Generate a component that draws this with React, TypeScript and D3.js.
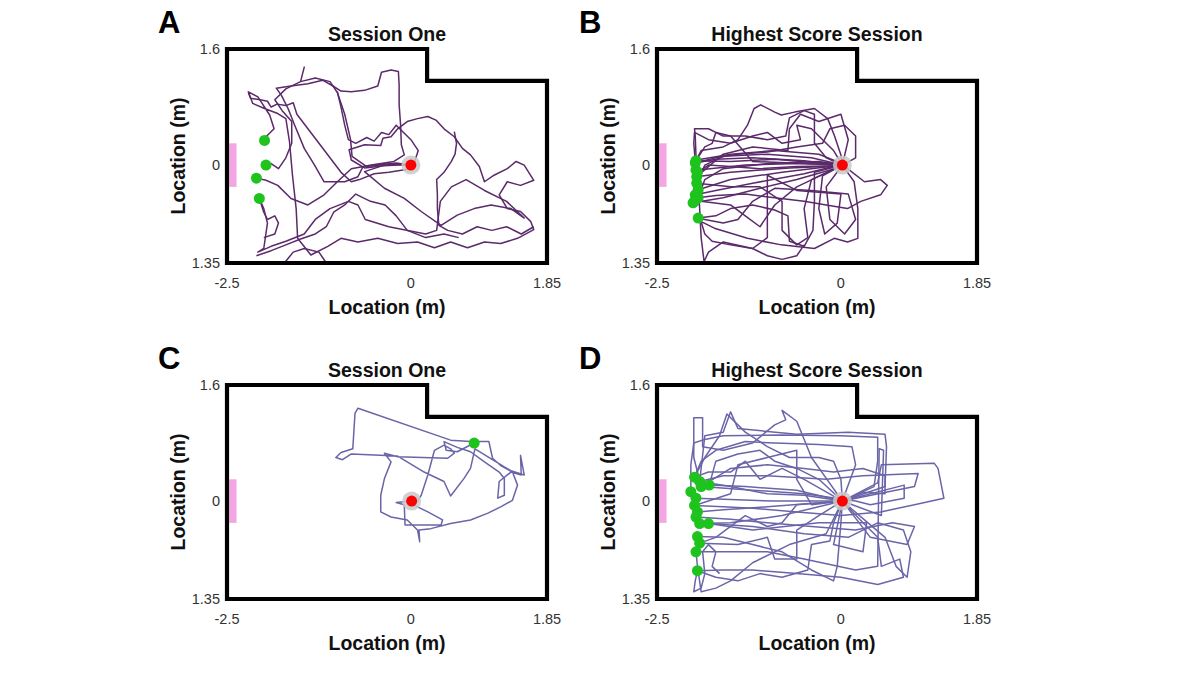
import React from 'react';
import * as d3 from 'd3';

type Pt = [number, number];

// ---- axes / arena ----
const X_DOMAIN: [number, number] = [-2.5, 1.85];
const Y_DOMAIN: [number, number] = [-1.35, 1.6];
const arenaX = [-2.5, 0.22, 0.22, 1.85, 1.85, -2.5];
const arenaY = [1.6, 1.6, 1.16, 1.16, -1.35, -1.35];
const zoneX = [-2.47, -2.37];
const zoneY = [-0.3, 0.3];
const xTickValues = [-2.5, 0, 1.85];
const xTickLabels = ['-2.5', '0', '1.85'];
const yTickValues = [1.6, 0, -1.35];
const yTickLabels = ['1.6', '0', '1.35'];
const panelLetters = ['A', 'B', 'C', 'D'];
const panelTitles = ['Session One', 'Highest Score Session', 'Session One', 'Highest Score Session'];
const axisTitle = 'Location (m)';

// ---- Panel A ----
const startA: Pt = [0, 0];
const goalsA: Pt[] = [[-1.99, 0.34], [-1.97, 0.0], [-2.1, -0.18], [-2.06, -0.46]];
const trialsA: Pt[][] = [
  [[0, 0.01], [-0.36, -0.01], [-0.63, -0.04], [-0.81, 0.07], [-0.84, 0.21], [-0.63, 0.28], [-0.41, 0.27], [-0.38, 0.37], [-0.27, 0.39], [-0.18, 0.5], [-0.05, 0.6], [0.09, 0.64], [0.23, 0.67], [0.34, 0.62], [0.45, 0.5], [0.59, 0.39], [0.7, 0.23], [0.81, 0.14], [0.93, -0.02], [1.0, -0.23], [1.13, -0.14], [1.31, -0.05], [1.43, 0.05], [1.54, 0.0], [1.67, -0.21], [1.49, -0.28], [1.31, -0.23], [1.2, -0.41], [1.31, -0.6], [1.49, -0.64], [1.63, -0.78], [1.67, -0.89], [1.45, -1.01], [1.22, -1.08], [1.0, -1.06], [0.77, -1.14], [0.54, -1.06], [0.32, -1.14], [0.09, -1.06], [-0.18, -1.08], [-0.45, -1.01], [-0.72, -1.06], [-0.95, -1.01], [-1.13, -1.12], [-1.36, -1.24], [-1.54, -1.01], [-1.56, -0.6], [-1.61, -0.14], [-1.65, 0.32], [-1.7, 0.64], [-1.81, 0.71], [-1.99, 0.78], [-2.15, 0.85], [-2.21, 1.01], [-2.08, 0.94], [-1.92, 0.69], [-1.86, 0.5], [-1.97, 0.39], [-1.99, 0.34]],
  [[0, 0], [-0.36, 0.01], [-0.65, -0.02], [-0.72, -0.16], [-0.9, -0.23], [-1.18, -0.23], [-1.31, 0.0], [-1.45, 0.23], [-1.58, 0.55], [-1.67, 0.78], [-1.76, 0.96], [-1.83, 1.06], [-1.63, 1.09], [-1.4, 1.12], [-1.2, 1.17], [-1.06, 1.09], [-0.95, 1.02], [-0.81, 1.01], [-0.63, 1.03], [-0.45, 1.09], [-0.4, 1.28], [-0.27, 1.31], [-0.17, 1.29], [-0.16, 1.1], [-0.16, 0.83], [-0.14, 0.55], [-0.13, 0.28], [-0.09, 0.14], [-0.23, 0.05], [-0.54, 0.0], [-0.81, -0.05], [-1.0, -0.23], [-1.18, -0.41], [-1.4, -0.55], [-1.63, -0.46], [-1.81, -0.28], [-1.97, -0.21], [-2.1, -0.18]],
  [[0, 0], [-0.3, 0.02], [-0.63, -0.09], [-0.36, -0.32], [-0.09, -0.46], [0.14, -0.64], [0.41, -0.83], [0.63, -0.69], [0.86, -0.6], [1.09, -0.55], [1.36, -0.6], [1.54, -0.73], [1.3, -0.5], [1.0, -0.35], [0.75, -0.2], [0.55, -0.3], [0.4, -0.5], [0.35, -0.9], [0.2, -0.95], [-0.3, -0.85], [-0.62, -0.75], [-0.72, -0.55], [-0.85, -0.5], [-1.1, -0.6], [-1.3, -0.75], [-1.45, -0.95], [-1.7, -1.05], [-1.9, -1.12], [-2.08, -1.2], [-2.0, -1.15], [-1.95, -0.8], [-2.0, -0.6], [-2.06, -0.46]],
  [[0, 0], [-0.2, 0.03], [-0.6, -0.02], [-0.8, 0.12], [-0.82, 0.35], [-0.9, 0.7], [-1.0, 1.0], [-1.1, 1.15], [-1.3, 1.2], [-1.5, 1.15], [-1.45, 1.35], [-1.5, 1.15], [-1.7, 1.05], [-1.85, 0.9], [-1.75, 0.75], [-1.62, 0.6], [-1.62, 0.3], [-1.7, 0.1], [-1.8, -0.05], [-1.9, 0.02], [-1.97, 0.0]],
  [[-2.21, 1.0], [-2.18, 0.92], [-2.05, 0.9], [-1.95, 0.88], [-1.9, 0.8], [-1.82, 0.84], [-1.7, 0.82], [-1.6, 0.86], [-1.55, 0.7], [-1.4, 0.5], [-1.25, 0.3], [-1.1, 0.1], [-0.95, -0.1], [-0.81, -0.23], [-0.7, -0.2], [-0.5, -0.12], [-0.3, -0.1], [0.0, -0.05]],
  [[-1.0, 1.01], [-0.95, 0.8], [-0.9, 0.55], [-0.85, 0.35], [-0.75, 0.3], [-0.6, 0.38], [-0.5, 0.33], [-0.4, 0.45], [-0.3, 0.42], [-0.2, 0.55], [-0.1, 0.45], [0.0, 0.35], [0.1, 0.2], [0.05, 0.05]],
  [[0.59, 0.46], [0.62, 0.3], [0.6, 0.15], [0.55, 0.05], [0.45, -0.1], [0.35, -0.2], [0.36, -0.41], [0.36, -0.6], [0.38, -0.83], [0.5, -0.9], [0.7, -0.95], [0.9, -0.85], [1.1, -0.9], [1.3, -0.85], [1.5, -0.95], [1.67, -0.85]],
  [[-2.1, -1.25], [-1.9, -1.18], [-1.7, -1.1], [-1.5, -1.02], [-1.3, -0.95], [-1.15, -0.85], [-1.05, -0.65], [-0.9, -0.55], [-0.75, -0.4], [-0.55, -0.5], [-0.35, -0.55], [-0.2, -0.7], [-0.05, -0.9], [0.2, -1.0], [0.45, -0.95], [0.65, -1.0]],
  [[-1.72, -1.35], [-1.6, -1.2], [-1.45, -1.15], [-1.25, -1.2], [-1.15, -1.35]],
  [[-2.06, -0.46], [-2.0, -0.65], [-1.95, -0.75], [-1.85, -0.7], [-1.8, -0.8], [-1.85, -0.95], [-2.0, -1.0]],
];

// ---- Panel B ----
const startB: Pt = [0.02, 0];
const goalsB: Pt[] = [[-1.98, 0.03], [-1.97, -0.07], [-1.96, -0.16], [-1.96, -0.25], [-1.94, -0.34], [-1.98, -0.41], [-1.94, -0.45], [-2.01, -0.52], [-1.94, -0.73], [-1.99, -0.5], [-1.97, 0.06], [-1.95, -0.1]];
const trialsB: Pt[][] = [
  [[0.02, 0], [-0.5, 0.06], [-1.2, 0.1], [-1.7, 0.08], [-1.98, 0.03]],
  [[0.02, 0], [-0.6, 0.02], [-1.3, 0.0], [-1.97, -0.07]],
  [[0.02, -0.01], [-0.7, -0.04], [-1.5, -0.1], [-1.96, -0.16]],
  [[0.02, 0], [-0.4, 0.1], [-1.0, 0.15], [-1.6, 0.12], [-1.85, 0.0], [-1.96, -0.25]],
  [[0.02, 0], [-0.8, -0.1], [-1.5, -0.2], [-1.94, -0.34]],
  [[0.02, 0.01], [-0.5, -0.12], [-1.2, -0.25], [-1.7, -0.35], [-1.98, -0.41]],
  [[0.02, 0], [-0.3, 0.05], [-1.0, 0.02], [-1.6, -0.05], [-1.85, -0.2], [-1.94, -0.45]],
  [[0.02, 0], [-0.9, 0.08], [-1.5, 0.05], [-1.97, 0.06]],
  [[0.02, -0.02], [-0.6, -0.2], [-1.1, -0.32], [-1.6, -0.45], [-2.01, -0.52]],
  [[0.02, 0.02], [-0.3, 0.15], [-0.9, 0.2], [-1.5, 0.15], [-1.9, 0.08], [-1.98, 0.03]],
  [[0.02, 0], [0.0, 0.14], [-0.09, 0.41], [-0.18, 0.64], [-0.36, 0.78], [-0.63, 0.73], [-0.81, 0.69], [-0.9, 0.73], [-1.09, 0.83], [-1.18, 0.78], [-1.27, 0.55], [-1.4, 0.35], [-1.6, 0.25], [-1.9, 0.2], [-1.97, 0.06]],
  [[0.02, 0], [0.09, -0.05], [0.32, -0.23], [0.54, -0.2], [0.63, -0.28], [0.54, -0.41], [0.27, -0.5], [0.09, -0.6], [-0.2, -0.55], [-0.5, -0.5], [-0.9, -0.45], [-1.3, -0.4], [-1.7, -0.42], [-1.94, -0.45]],
  [[0.02, 0], [0.18, -0.23], [0.23, -0.6], [0.23, -1.01], [0.09, -1.06], [-0.09, -1.01], [-0.36, -1.15], [-0.81, -1.1], [-1.27, -1.01], [-1.72, -0.87], [-1.9, -0.78], [-1.94, -0.73]],
  [[0.02, 0], [-0.1, 0.2], [-0.4, 0.5], [-0.6, 0.55], [-0.55, 0.35], [-0.8, 0.3], [-1.0, 0.45], [-1.2, 0.4], [-1.5, 0.3], [-1.8, 0.35], [-1.99, 0.45], [-2.0, 0.3], [-1.97, -0.07]],
  [[0.02, 0], [-0.4, -0.2], [-0.5, -0.6], [-0.45, -1.0], [-0.6, -1.1], [-0.8, -0.9], [-0.8, -0.5], [-1.1, -0.3], [-1.5, -0.3], [-1.96, -0.25]],
  [[0.02, 0], [-0.6, -0.3], [-0.9, -0.55], [-1.1, -0.85], [-1.3, -0.7], [-1.5, -0.55], [-1.9, -0.5], [-1.99, -0.5]],
  [[0.02, 0], [-0.25, -0.15], [-0.3, -0.6], [-0.22, -0.95], [-0.05, -0.8], [0.0, -0.4], [-0.6, -0.35], [-1.0, -0.14], [-1.0, -1.0], [-1.2, -1.15], [-1.6, -1.06], [-1.8, -1.2], [-1.86, -1.33], [-1.9, -1.0], [-1.92, -0.6], [-1.95, -0.1]],
  [[0.02, 0], [0.1, 0.35], [0.0, 0.7], [-0.3, 0.6], [-0.55, 0.7], [-0.7, 0.5], [-0.72, 0.2], [-1.2, 0.25], [-1.6, 0.15], [-1.96, -0.16]],
  [[0.02, -0.01], [-0.6, -0.02], [-1.1, -0.05], [-1.5, -0.02], [-1.8, 0.0], [-1.95, -0.1]],
  [[0.02, 0], [-0.2, 0.1], [-0.36, 0.3], [-0.36, 0.7], [-0.5, 0.75], [-0.7, 0.65], [-0.75, 0.4], [-1.0, 0.35], [-1.3, 0.4], [-1.6, 0.4], [-1.8, 0.5], [-1.99, 0.5], [-1.98, 0.4], [-1.96, -0.16]],
  [[0.02, 0], [-0.36, -0.1], [-0.36, -0.5], [-0.38, -0.9], [-0.5, -1.12], [-0.7, -1.05], [-0.72, -0.7], [-0.9, -0.62], [-1.2, -0.55], [-1.5, -0.6], [-1.7, -0.7], [-1.94, -0.73]],
  [[0.02, 0], [0.2, 0.1], [0.2, 0.4], [0.05, 0.55], [-0.15, 0.5], [-0.25, 0.3], [-0.6, 0.25], [-1.0, 0.18], [-1.4, 0.15], [-1.7, 0.1], [-1.98, 0.03]],
  [[0.02, 0], [-0.2, -0.3], [-0.15, -0.75], [0.05, -0.95], [0.2, -0.75], [0.1, -0.4], [-0.4, -0.35], [-0.9, -0.32], [-1.2, -0.5], [-1.4, -0.75], [-1.6, -0.8], [-1.85, -0.75], [-1.94, -0.73]],
  [[0.02, 0], [-1.2, 0.05], [-1.5, 0.4], [-1.7, 0.45], [-1.75, 0.3], [-1.85, 0.25], [-1.97, 0.06]],
  [[-1.9, -0.78], [-1.85, -0.95], [-1.75, -1.05], [-1.5, -1.1], [-1.2, -1.15], [-1.0, -1.25], [-0.8, -1.3], [-0.6, -1.25], [-0.5, -1.1]],
];

// ---- Panel C ----
const startC: Pt = [0.01, 0];
const goalsC: Pt[] = [[0.86, 0.8]];
const trialsC: Pt[][] = [
  [[0.01, 0], [-0.2, -0.02], [-0.09, -0.05], [-0.08, -0.33], [0.09, -0.33], [0.41, -0.33], [0.43, -0.26], [0.23, -0.15], [0.05, -0.06], [0.14, 0.08], [0.23, 0.36], [0.32, 0.7], [0.45, 0.77], [0.54, 0.72], [0.59, 0.66], [0.5, 0.59], [-0.18, 0.61], [-0.36, 0.66], [-0.27, 0.54], [-0.36, 0.31], [-0.41, 0.08], [-0.41, -0.15], [-0.27, -0.22], [-0.05, -0.26], [0.09, -0.4], [0.12, -0.56], [0.11, -0.4], [0.27, -0.38], [0.54, -0.31], [0.81, -0.26], [1.04, -0.17], [1.22, -0.08], [1.38, 0.01], [1.45, 0.22], [1.38, 0.4], [1.22, 0.49], [1.11, 0.59], [1.09, 0.68], [1.06, 0.82], [0.81, 0.82], [0.54, 0.84], [-0.72, 1.28], [-0.76, 1.21], [-0.79, 0.72], [-0.95, 0.67], [-1.02, 0.6], [-0.93, 0.57], [-0.81, 0.65], [-0.18, 0.62], [0.18, 0.4], [0.45, 0.27], [0.54, 0.07], [0.72, 0.31], [0.81, 0.45], [0.87, 0.72], [1.27, 0.47], [1.36, 0.42], [1.54, 0.36], [1.49, 0.63], [1.5, 0.36], [1.36, 0.4], [1.2, 0.27], [1.18, 0.04], [1.27, 0.08], [1.27, 0.31], [1.2, 0.4], [1.0, 0.54], [0.81, 0.68], [0.63, 0.74], [0.45, 0.82], [0.48, 0.7], [0.63, 0.68], [0.86, 0.8]],
];

// ---- Panel D ----
const startD: Pt = [0.02, 0];
const goalsD: Pt[] = [[-1.99, 0.33], [-1.92, 0.27], [-2.04, 0.13], [-1.9, 0.2], [-1.79, 0.22], [-1.97, 0.04], [-1.99, -0.06], [-1.95, -0.15], [-1.97, -0.22], [-1.92, -0.31], [-1.8, -0.31], [-1.95, -0.49], [-1.92, -0.58], [-1.97, -0.7], [-1.95, -0.96]];
const trialsD: Pt[][] = [
  [[0.02, 0], [-0.5, 0.08], [-1.0, 0.1], [-1.5, 0.2], [-1.92, 0.27]],
  [[0.02, 0], [-0.9, 0.0], [-1.5, 0.02], [-1.97, 0.04]],
  [[0.02, 0], [-1.0, -0.08], [-1.6, -0.12], [-1.95, -0.15]],
  [[0.02, 0], [-0.6, 0.15], [-1.3, 0.2], [-1.79, 0.22]],
  [[0.02, 0], [-0.8, -0.2], [-1.5, -0.3], [-1.92, -0.31]],
  [[0.02, 0], [0.0, 0.3], [-0.1, 0.55], [-0.3, 0.6], [-0.7, 0.6], [-1.0, 0.75], [-1.3, 0.95], [-1.55, 1.2], [-1.65, 0.9], [-1.85, 0.6], [-1.99, 0.33]],
  [[0.02, 0], [0.45, 0.2], [0.5, 0.55], [0.5, 0.88], [0.0, 0.9], [-0.8, 0.91], [-1.6, 0.9], [-1.85, 0.85], [-2.0, 0.8], [-2.04, 0.5], [-2.04, 0.13]],
  [[0.02, 0], [0.5, 0.25], [0.55, 0.5], [1.27, 0.52], [1.32, 0.45], [1.4, 0.04], [1.0, -0.05], [0.54, -0.15], [0.0, -0.2], [-0.6, -0.15], [-1.2, -0.1], [-1.6, -0.08], [-1.99, -0.06]],
  [[0.02, 0], [0.86, 0.22], [0.86, 0.04], [0.4, -0.05], [0.2, 0.0], [-0.5, 0.1], [-1.2, 0.15], [-1.9, 0.2]],
  [[0.02, 0], [0.3, -0.3], [0.5, -0.5], [0.55, -0.9], [0.8, -0.8], [0.85, -1.05], [0.5, -1.15], [0.0, -1.05], [-0.6, -1.0], [-1.2, -0.95], [-1.6, -0.95], [-1.95, -0.96]],
  [[0.02, 0], [0.0, -0.3], [-0.05, -0.9], [-0.1, -1.1], [-0.4, -0.95], [-0.8, -0.7], [-1.2, -0.6], [-1.6, -0.5], [-1.95, -0.49]],
  [[0.02, 0], [-0.3, -0.2], [-0.6, -0.4], [-0.6, -0.8], [-0.9, -0.8], [-1.0, -0.5], [-1.4, -0.6], [-1.92, -0.58]],
  [[0.02, 0], [-0.5, 0.3], [-0.8, 0.45], [-1.1, 0.3], [-1.3, 0.55], [-1.5, 0.4], [-1.8, 0.4], [-1.99, 0.33]],
  [[0.02, 0], [0.4, -0.5], [0.9, -0.6], [1.0, -0.35], [0.7, -0.3], [0.2, -0.4], [-0.4, -0.35], [-1.0, -0.3], [-1.5, -0.25], [-1.97, -0.22]],
  [[0.02, 0], [-0.2, -0.45], [-0.7, -0.6], [-1.2, -0.85], [-1.5, -1.1], [-1.7, -1.2], [-1.9, -1.25], [-1.95, -0.9], [-1.97, -0.7]],
  [[0.02, 0], [-0.4, 0.6], [-0.6, 1.1], [-0.8, 1.25], [-0.75, 1.12], [-0.9, 1.05], [-1.2, 0.8], [-1.6, 0.7], [-1.88, 0.75], [-1.88, 1.15], [-2.0, 1.15], [-2.0, 0.6], [-1.9, 0.2]],
  [[0.02, 0], [0.55, -0.2], [0.58, 0.7], [0.52, 0.72], [0.5, -0.9], [0.2, -0.95], [-0.5, -0.8], [-1.0, -0.7], [-1.5, -0.7], [-1.97, -0.7]],
  [[0.02, 0], [-0.1, -0.6], [0.3, -0.7], [0.35, -0.3], [-0.3, -0.3], [-1.2, -0.4], [-1.8, -0.31]],
  [[0.02, 0], [-0.4, -0.05], [-0.6, 0.3], [-0.6, 0.7], [-1.0, 0.6], [-1.4, 0.5], [-1.5, 0.1], [-1.99, -0.06]],
  [[0.02, 0], [1.0, 0.2], [1.05, 0.38], [0.3, 0.35], [-0.2, 0.3], [-1.0, 0.35], [-1.6, 0.35], [-1.92, 0.27]],
  [[0.02, 0], [0.2, 0.5], [0.15, 0.75], [-0.3, 0.78], [-0.9, 0.8], [-1.3, 0.82], [-1.7, 0.7], [-1.9, 0.55], [-1.99, 0.33]],
  [[0.02, 0], [0.6, 0.2], [0.62, 0.75], [0.6, 0.92], [0.1, 0.95], [-0.6, 0.92], [-1.4, 1.0], [-1.5, 1.23], [-1.6, 0.95], [-1.85, 0.9], [-1.92, 0.27]],
  [[0.02, 0], [-0.1, -0.3], [-0.15, -0.55], [-0.4, -0.6], [-0.45, -0.95], [-0.8, -1.05], [-1.1, -1.0], [-1.4, -1.1], [-1.7, -1.05], [-1.95, -0.96]],
  [[0.02, 0], [0.6, -0.5], [0.75, -0.9], [0.9, -1.05], [0.95, -0.7], [0.85, -0.4], [0.5, -0.3], [0.1, -0.5], [-0.5, -0.45], [-1.2, -0.35], [-1.8, -0.31]],
  [[0.02, 0], [-0.3, 0.3], [-0.6, 0.45], [-0.9, 0.55], [-1.1, 0.7], [-1.4, 0.65], [-1.7, 0.55], [-1.79, 0.22]],
  [[0.02, 0], [-0.6, -0.05], [-0.8, -0.3], [-1.0, -0.35], [-1.3, -0.2], [-1.5, -0.35], [-1.7, -0.5], [-1.92, -0.58]],
  [[0.02, 0], [0.3, 0.12], [0.6, 0.1], [0.6, 0.35], [0.3, 0.45], [-0.1, 0.4], [-0.5, 0.45], [-1.0, 0.5], [-1.5, 0.45], [-1.9, 0.2]],
  [[-1.95, -0.96], [-1.98, -1.1], [-2.0, -1.25], [-1.9, -1.2], [-1.85, -1.0], [-1.88, -0.7], [-1.8, -0.6], [-1.7, -0.7], [-1.75, -0.9], [-1.65, -1.0]],
];

const panelTrials = [trialsA, trialsB, trialsC, trialsD];
const panelGoals = [goalsA, goalsB, goalsC, goalsD];
const panelStarts = [startA, startB, startC, startD];
const panelLineColors = ['#5b2a6b', '#5b2a6b', '#6a65a8', '#6a65a8'];

const FONT = "'Liberation Sans', Arial, sans-serif";
const BOX_W = 320;
const BOX_H = 214;

function Panel({ index }: { index: number }) {
  const col = index % 2;
  const row = Math.floor(index / 2);
  const left = 227 + col * 430;
  const top = 49 + row * 336;
  const xs = d3.scaleLinear().domain(X_DOMAIN).range([left, left + BOX_W]);
  const ys = d3.scaleLinear().domain(Y_DOMAIN).range([top + BOX_H, top]);
  const line = d3.line<Pt>().x((d) => xs(d[0])).y((d) => ys(d[1]));
  const arena: Pt[] = arenaX.map((x, i) => [x, arenaY[i]] as Pt);
  const arenaPath = line(arena) + 'Z';
  const start = panelStarts[index];
  const letterX = col === 0 ? 158 : 579;
  return (
    <g>
      <text x={letterX} y={top - 16} fontFamily={FONT} fontWeight="bold" fontSize={31} fill="#000">
        {panelLetters[index]}
      </text>
      <text x={left + BOX_W / 2} y={top - 8} textAnchor="middle" fontFamily={FONT} fontWeight="bold" fontSize={19.5} fill="#111">
        {panelTitles[index]}
      </text>
      <rect
        x={xs(zoneX[0])}
        y={ys(zoneY[1])}
        width={xs(zoneX[1]) - xs(zoneX[0])}
        height={ys(zoneY[0]) - ys(zoneY[1])}
        fill="#f3a6e3"
      />
      {panelTrials[index].map((t, i) => (
        <path key={i} d={line(t) || ''} fill="none" stroke={panelLineColors[index]} strokeWidth={1.5} strokeLinejoin="round" />
      ))}
      <circle cx={xs(start[0])} cy={ys(start[1])} r={9.5} fill="#c9c9c9" opacity={0.85} />
      {panelGoals[index].map((g, i) => (
        <circle key={i} cx={xs(g[0])} cy={ys(g[1])} r={5.5} fill="#1ec31e" />
      ))}
      <circle cx={xs(start[0])} cy={ys(start[1])} r={5.5} fill="#ff0000" />
      <path d={arenaPath} fill="none" stroke="#000" strokeWidth={4.2} strokeLinejoin="miter" />
      {yTickValues.map((v, i) => (
        <text key={i} x={left - 7} y={ys(v) + 5} textAnchor="end" fontFamily={FONT} fontSize={14.5} fill="#333">
          {yTickLabels[i]}
        </text>
      ))}
      {xTickValues.map((v, i) => (
        <text key={i} x={xs(v)} y={top + BOX_H + 25} textAnchor="middle" fontFamily={FONT} fontSize={14.5} fill="#333">
          {xTickLabels[i]}
        </text>
      ))}
      <text x={left + BOX_W / 2} y={top + BOX_H + 51} textAnchor="middle" fontFamily={FONT} fontWeight="bold" fontSize={19.5} fill="#111">
        {axisTitle}
      </text>
      <text
        transform={`translate(${left - 49},${top + BOX_H / 2}) rotate(-90)`}
        textAnchor="middle"
        dy="0.35em"
        fontFamily={FONT}
        fontWeight="bold"
        fontSize={19.5}
        fill="#111"
      >
        {axisTitle}
      </text>
    </g>
  );
}

export default function App() {
  return (
    <svg
      width={1200}
      height={675}
      viewBox="0 0 1200 675"
      style={{ position: 'absolute', left: 0, top: 0, background: '#fff' }}
    >
      <rect width={1200} height={675} fill="#fff" />
      {[0, 1, 2, 3].map((i) => (
        <Panel key={i} index={i} />
      ))}
    </svg>
  );
}
